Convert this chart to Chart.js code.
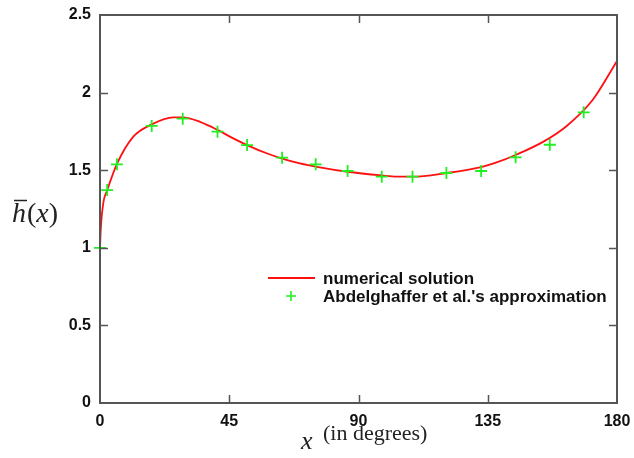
<!DOCTYPE html>
<html>
<head>
<meta charset="utf-8">
<script src="https://cdn.jsdelivr.net/npm/chart.js@4"></script>
<style>
  html, body { margin: 0; padding: 0; background: #fff; }
  #wrap { width: 634px; height: 458px; }
</style>
</head>
<body>
<div id="wrap"><canvas id="chart" width="634" height="458"></canvas></div>
<script>
// numerical solution (red curve)
const solX = [0, 0.3, 1.15, 2.5, 5.9, 11.6, 18, 25.5, 28.8, 34.8, 40.9, 46.4, 51.2, 58, 63.4, 69.6, 76, 86.2, 98.1, 103.3, 108.8, 120.6, 132.7, 138.1, 144.7, 154.4, 162.5, 171.5, 180];
const solY = [1.0, 1.13, 1.29, 1.37, 1.54, 1.716, 1.795, 1.84, 1.84, 1.812, 1.76, 1.705, 1.662, 1.609, 1.575, 1.544, 1.52, 1.49, 1.466, 1.458, 1.458, 1.482, 1.52, 1.55, 1.598, 1.684, 1.785, 1.952, 2.204];
// Abdelghaffer et al.'s approximation (green crosses)
const apxX = [0, 2.5, 5.9, 18, 28.8, 40.9, 51.2, 63.4, 75.1, 86.2, 98.1, 108.8, 120.6, 132.7, 144.7, 156.6, 168.4];
const apxY = [1.0, 1.372, 1.538, 1.785, 1.832, 1.748, 1.662, 1.581, 1.538, 1.495, 1.458, 1.458, 1.482, 1.495, 1.583, 1.664, 1.873];

const seriesNames = ['numerical solution', "Abdelghaffer et al.'s approximation"];
const xMin = 0, xMax = 180, xStep = 45;
const yMin = 0, yMax = 2.5, yStep = 0.5;

const axisColor = '#555';
const tickFont = { family: 'Liberation Sans, Arial, sans-serif', size: 16, weight: 'bold' };

const toPts = (xs, ys) => xs.map((x, i) => ({ x: x, y: ys[i] }));

const framePlugin = {
  id: 'frame',
  afterDraw(chart) {
    const ctx = chart.ctx;
    const a = chart.chartArea;
    const xs = chart.scales.x, ys = chart.scales.y;
    ctx.save();
    ctx.strokeStyle = axisColor;
    ctx.lineWidth = 2;
    ctx.strokeRect(a.left, a.top, a.right - a.left, a.bottom - a.top);
    ctx.lineWidth = 1.5;
    const len = 8;
    ctx.beginPath();
    xs.ticks.forEach(t => {
      if (t.value <= xMin || t.value >= xMax) return;
      const px = Math.round(xs.getPixelForValue(t.value)) + 0.5;
      ctx.moveTo(px, a.bottom); ctx.lineTo(px, a.bottom - len);
      ctx.moveTo(px, a.top); ctx.lineTo(px, a.top + len);
    });
    ys.ticks.forEach(t => {
      if (t.value <= yMin || t.value >= yMax) return;
      const py = Math.round(ys.getPixelForValue(t.value)) + 0.5;
      ctx.moveTo(a.left, py); ctx.lineTo(a.left + len, py);
      ctx.moveTo(a.right, py); ctx.lineTo(a.right - len, py);
    });
    ctx.stroke();

    // legend inside the plot
    const ds = chart.data.datasets;
    ctx.font = 'bold 17px Liberation Sans, Arial, sans-serif';
    ctx.textBaseline = 'middle';
    ctx.fillStyle = '#111';
    ctx.strokeStyle = ds[0].borderColor;
    ctx.lineWidth = 1.8;
    ctx.beginPath(); ctx.moveTo(268, 278); ctx.lineTo(315, 278); ctx.stroke();
    ctx.fillText(ds[0].label, 323, 279);
    ctx.strokeStyle = ds[1].borderColor;
    ctx.lineWidth = 1.6;
    ctx.beginPath();
    ctx.moveTo(286, 296); ctx.lineTo(296, 296);
    ctx.moveTo(291, 291); ctx.lineTo(291, 301);
    ctx.stroke();
    ctx.fillText(ds[1].label, 323, 297);

    // y axis title: h-bar(x)
    ctx.fillStyle = '#222';
    ctx.textBaseline = 'alphabetic';
    let x = 12, base = 222;
    ctx.font = 'italic 28px Liberation Serif, Times New Roman, serif';
    ctx.fillText('h', x, base);
    const hw = ctx.measureText('h').width;
    ctx.strokeStyle = '#222';
    ctx.lineWidth = 1.5;
    ctx.beginPath(); ctx.moveTo(x + 2, 200.5); ctx.lineTo(x + hw + 1, 200.5); ctx.stroke();
    x += hw + 1;
    ctx.font = '28px Liberation Serif, Times New Roman, serif';
    ctx.fillText('(', x, base); x += ctx.measureText('(').width;
    ctx.font = 'italic 28px Liberation Serif, Times New Roman, serif';
    ctx.fillText('x', x, base); x += ctx.measureText('x').width;
    ctx.font = '28px Liberation Serif, Times New Roman, serif';
    ctx.fillText(')', x, base);

    // x axis title
    ctx.font = 'italic 26px Liberation Serif, Times New Roman, serif';
    ctx.fillText('x', 301, 449);
    ctx.font = '22px Liberation Serif, Times New Roman, serif';
    ctx.fillText('(in degrees)', 323, 440);
    ctx.restore();
  }
};

new Chart(document.getElementById('chart').getContext('2d'), {
  type: 'scatter',
  data: {
    datasets: [
      {
        label: seriesNames[0],
        data: toPts(solX, solY),
        showLine: true,
        borderColor: '#ff1010',
        borderWidth: 1.8,
        pointRadius: 0,
        cubicInterpolationMode: 'monotone',
        fill: false,
        order: 2,
      },
      {
        label: seriesNames[1],
        data: toPts(apxX, apxY),
        showLine: false,
        borderColor: '#22ee22',
        backgroundColor: '#22ee22',
        pointStyle: 'cross',
        pointRadius: 6,
        pointBorderWidth: 1.8,
        clip: false,
        order: 1,
      },
    ],
  },
  options: {
    responsive: false,
    animation: false,
    layout: { padding: { left: 0, top: 15, right: 17, bottom: 0 } },
    plugins: { legend: { display: false }, tooltip: { enabled: false } },
    scales: {
      x: {
        type: 'linear', min: xMin, max: xMax,
        grid: { display: false, drawTicks: false },
        border: { display: false },
        ticks: { stepSize: xStep, color: '#111', font: tickFont, padding: 9, maxRotation: 0 },
        afterFit: s => { s.height = 55; s.paddingLeft = 0; s.paddingRight = 0; },
      },
      y: {
        min: yMin, max: yMax,
        grid: { display: false, drawTicks: false },
        border: { display: false },
        ticks: { stepSize: yStep, color: '#111', font: tickFont, padding: 9, callback: v => String(v) },
        afterFit: s => { s.width = 100; s.paddingTop = 0; s.paddingBottom = 0; },
      },
    },
  },
  plugins: [framePlugin],
});
</script>
</body>
</html>
